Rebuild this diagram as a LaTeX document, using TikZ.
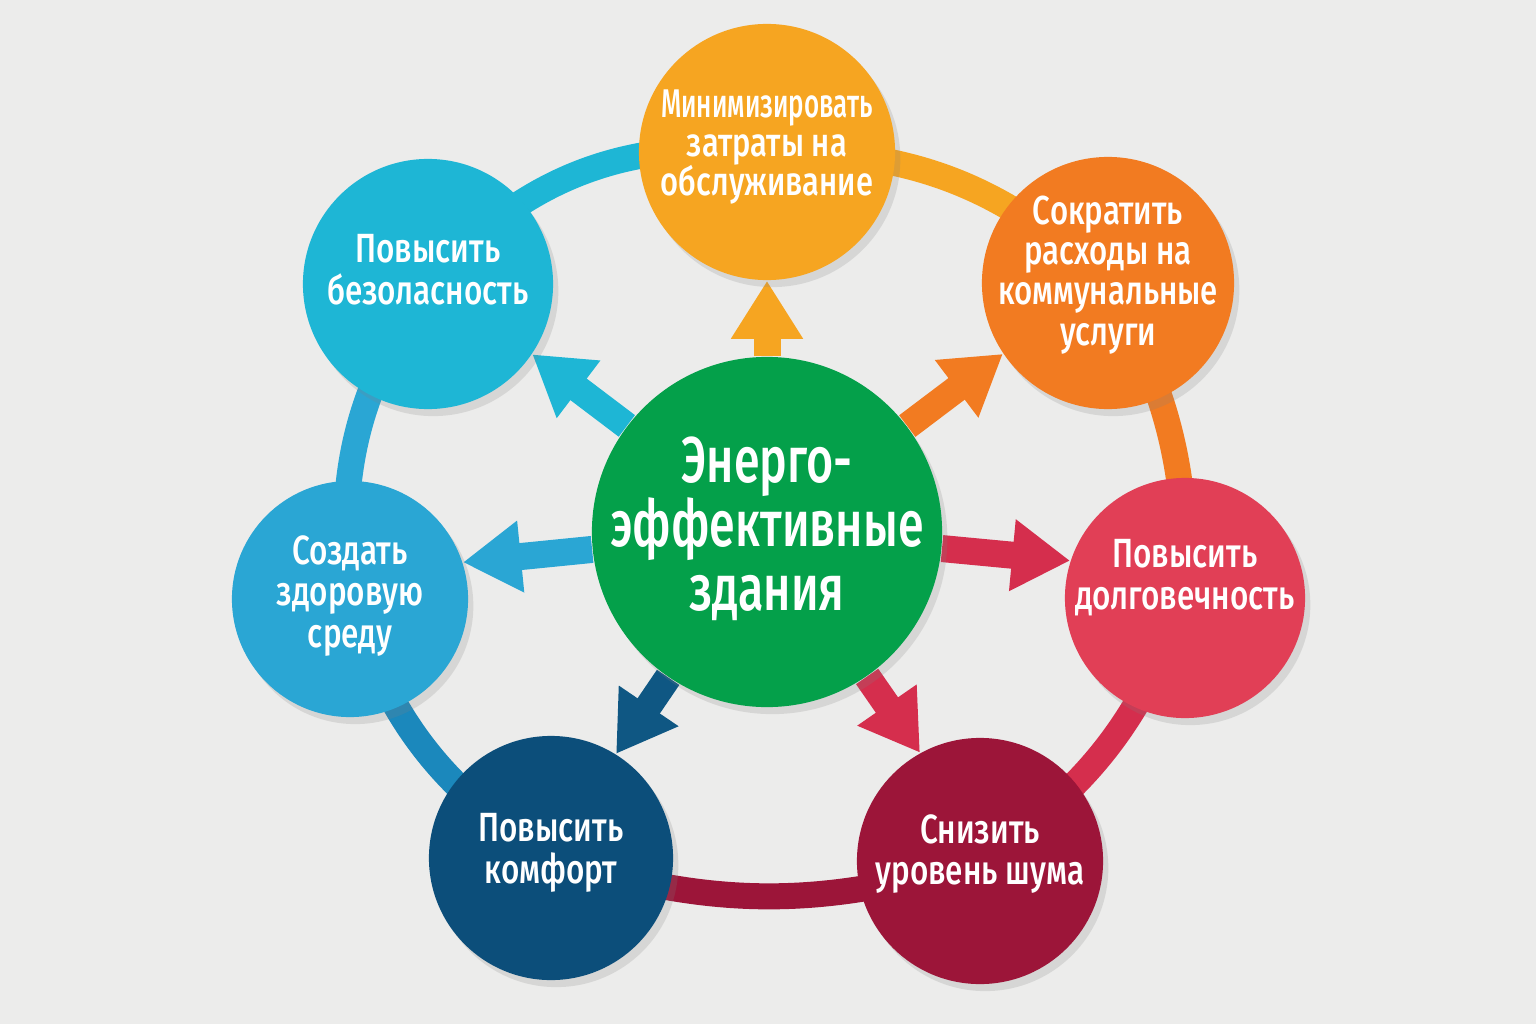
\documentclass[tikz,border=0pt]{standalone}
\usepackage{graphicx}
\usepackage{fontspec}
\newfontfamily\goalfont{Fira Sans}[UprightFont={* Medium},FakeStretch=0.77]
\newfontfamily\hubfont{Fira Sans}[UprightFont={* Medium},FakeStretch=0.72]
\usetikzlibrary{arrows.meta,shadows,backgrounds}
\definecolor{paper}{HTML}{ECECEB}
\definecolor{hub}{HTML}{04A04A}
\definecolor{amber}{HTML}{F6A521}
\definecolor{tangerine}{HTML}{F27B21}
\definecolor{rose}{HTML}{E13F56}
\definecolor{crimson}{HTML}{D52E4D}
\definecolor{wine}{HTML}{9C1539}
\definecolor{navy}{HTML}{0C4E7A}
\definecolor{sky}{HTML}{2AA6D4}
\definecolor{cyan}{HTML}{1EB6D5}
\definecolor{ringblue}{HTML}{1B88BC}

\begin{document}
\begin{tikzpicture}
[x=0.01cm,y=-0.01cm]
\tikzstyle{goal node}=[circle,inner sep=0,
  drop shadow={opacity=0.2,shadow xshift=1.5pt,shadow yshift=-2pt}]
\tikzstyle{goal text}=[inner sep=0,text=white,align=center,
  font=\goalfont\fontsize{11.6}{11.9}\selectfont]
\tikzstyle{ring}=[line width=0.26cm]
\tikzstyle{arrow}=[line width=0.27cm,-{Triangle[length=0.58cm,width=0.68cm]}]

\node(1)[goal node,fill=amber,minimum size=2.56cm]at(767,152){};
\node(2)[goal node,fill=tangerine,minimum size=2.52cm]at(1108,283){};
\node(3)[goal node,fill=rose,minimum size=2.40cm]at(1185,598){};
\node(4)[goal node,fill=wine,minimum size=2.46cm]at(980,861){};
\node(5)[goal node,fill=navy,minimum size=2.44cm]at(551,858){};
\node(6)[goal node,fill=sky,minimum size=2.36cm]at(350,599){};
\node(7)[goal node,fill=cyan,minimum size=2.50cm]at(428,284){};
\node(0)[goal node,fill=hub,minimum size=3.50cm]at(767,532){};

\node[goal text,yshift=0.05cm,font=\goalfont\fontsize{11.4}{11.1}\selectfont]at(1)
  {\scalebox{0.84}[1]{Минимизировать}\\затраты на\\обслуживание};
\node[goal text,yshift=0.08cm,font=\goalfont\fontsize{11.5}{11.4}\selectfont]at(2)
  {Сократить\\расходы на\\коммунальные\\услуги};
\node[goal text,yshift=0.2cm]at(3){Повысить\\долговечность};
\node[goal text,yshift=0.07cm]at(4){Снизить\\уровень шума};
\node[goal text,yshift=0.05cm]at(5){Повысить\\комфорт};
\node[goal text,yshift=0.03cm]at(6){Создать\\здоровую\\среду};
\node[goal text,yshift=0.14cm]at(7){Повысить\\безоласность};
\node[goal text,yshift=0.03cm,font=\hubfont\fontsize{18.4}{18.2}\selectfont]at(0)
  {Энерго-\\эффективные\\здания};

\begin{pgfonlayer}{background}
\fill[paper](0,0)rectangle(1536,1024);

\draw[ring,cyan](7.center)to[bend left=27](1.center);
\draw[ring,amber](1.center)to[bend left=22](2.center);
\draw[ring,tangerine](2.center)to[bend left=15](3.center);
\draw[ring,crimson](3.center)to[bend left=18](4.center);
\draw[ring,wine](4.center)to[bend left=17](5.center);
\draw[ring,ringblue](5.center)to[bend left=20](6.center);
\draw[ring,sky](6.center)to[bend left=20](7.center);

\draw[arrow,amber](0)--(1.south);
\draw[arrow,tangerine](0)--(2.214);
\draw[arrow,crimson](0)--(3.162);
\draw[arrow,crimson](0)--(4.119);
\draw[arrow,navy!90!sky](0)--(5.58);
\draw[arrow,sky](0)--(6.18);
\draw[arrow,cyan](0)--(7.-34);
\end{pgfonlayer}
\end{tikzpicture}
\end{document}
